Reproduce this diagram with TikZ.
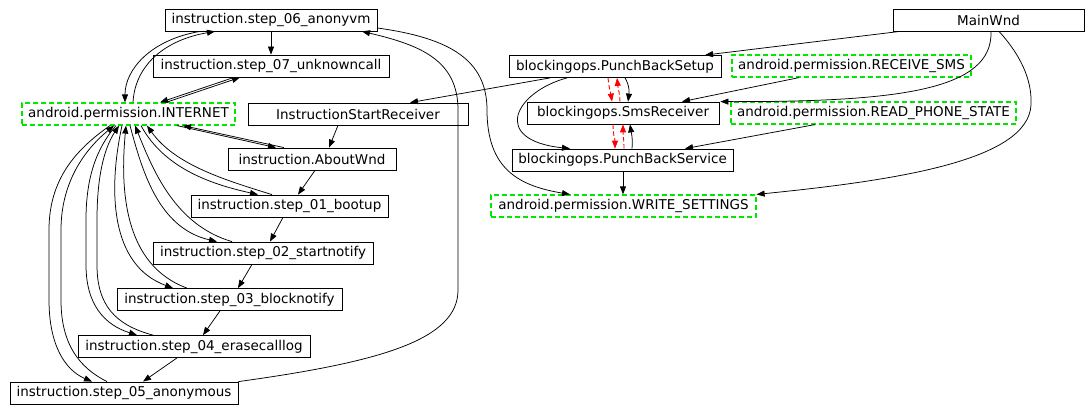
\documentclass[tikz,border=0pt]{standalone}
\usepackage{fontspec}
\setmainfont{DejaVu Sans}
\usetikzlibrary{arrows.meta,calc}
\definecolor{permgreen}{RGB}{0,230,0}
\definecolor{redge}{RGB}{255,0,0}
\tikzset{
  box/.style={draw, line width=0.8pt, rectangle, inner sep=0pt, minimum height=22pt, font=\fontsize{13.5}{16}\selectfont},
  perm/.style={box, draw=permgreen, line width=1.2pt, dash pattern=on 5pt off 3pt},
  edge/.style={draw, line width=0.75pt, -{Triangle[length=8pt,width=6pt]}},
  redge/.style={edge, draw=redge, line width=0.9pt, dash pattern=on 4.5pt off 2.5pt, -{Triangle[length=8pt,width=6pt,fill=redge]}}
}
\begin{document}
\begin{tikzpicture}[x=1pt,y=-1pt]
\useasboundingbox[fill=white] (0,0) rectangle (1086,412);
% nodes
\node[box, minimum width=212pt] (s06) at (271,20) {instruction.step\_06\_anonyvm};
\node[box, minimum width=236pt] (s07) at (271,66) {instruction.step\_07\_unknowncall};
\node[perm, minimum width=213pt] (internet) at (128.5,114) {android.permission.INTERNET};
\node[box, minimum width=220pt] (isr) at (358,114) {InstructionStartReceiver};
\node[box, minimum width=168pt] (about) at (312,159) {instruction.AboutWnd};
\node[box, minimum width=197pt] (s01) at (289.5,206) {instruction.step\_01\_bootup};
\node[box, minimum width=220pt] (s02) at (263,253) {instruction.step\_02\_startnotify};
\node[box, minimum width=225pt] (s03) at (229.5,299.5) {instruction.step\_03\_blocknotify};
\node[box, minimum width=232pt] (s04) at (194,346.5) {instruction.step\_04\_erasecalllog};
\node[box, minimum width=228pt] (s05) at (124,393) {instruction.step\_05\_anonymous};
\node[box, minimum width=212pt] (pbsetup) at (615,66.5) {blockingops.PunchBackSetup};
\node[box, minimum width=192pt] (sms) at (623,113) {blockingops.SmsReceiver};
\node[box, minimum width=221pt] (pbservice) at (622.5,160) {blockingops.PunchBackService};
\node[perm, minimum width=265pt] (write) at (623.5,206) {android.permission.WRITE\_SETTINGS};
\node[box, minimum width=191pt] (mainwnd) at (988.5,20) {MainWnd};
\node[perm, minimum width=239pt] (receive) at (851.5,66) {android.permission.RECEIVE\_SMS};
\node[perm, minimum width=285pt] (readphone) at (873.5,113) {android.permission.READ\_PHONE\_STATE};

% left cluster
\path[edge] (s06.south) -- (s07.north);
\path[edge] ($(s06.south)+(-71,0)$) .. controls (150,40) and (125,70) .. ($(internet.north)+(-3.5,0)$);
\path[edge] ($(internet.north)+(4.5,0)$) .. controls (135,65) and (165,40) .. ($(s06.south)+(-56,0)$);
\path[edge] ($(s07.south)+(-37,0)$) -- ($(internet.north)+(31.5,0)$);
\path[edge] ($(internet.north)+(37.5,0)$) -- ($(s07.south)+(-31,0)$);
\path[edge] ($(isr.south)+(-20,0)$) -- ($(about.north)+(17,0)$);
\path[edge] ($(about.north)+(-28,0)$) -- ($(internet.south)+(54.5,0)$);
\path[edge] ($(internet.south)+(48.5,0)$) -- ($(about.north)+(-36,0)$);
\path[edge] ($(about.south)+(3,0)$) -- ($(s01.north)+(8.5,0)$);
\path[edge] ($(s01.south)+(-6.5,0)$) -- ($(s02.north)+(7,0)$);
\path[edge] ($(s02.south)+(-11,0)$) -- ($(s03.north)+(8.5,0)$);
\path[edge] ($(s03.south)+(-9.5,0)$) -- ($(s04.north)+(9,0)$);
\path[edge] ($(s04.south)+(-17,0)$) -- ($(s05.north)+(19,0)$);
% step_01 pair
\path[edge] ($(internet.south)+(12.5,0)$) .. controls (165,170) and (215,185) .. ($(s01.north)+(-31.5,0)$);
\path[edge] ($(s01.north)+(-17.5,0)$) .. controls (225,180) and (175,165) .. ($(internet.south)+(18.5,0)$);
% step_02 pair
\path[edge] ($(internet.south)+(1.5,0)$) .. controls (142,170) and (158,228) .. ($(s02.north)+(-46,0)$);
\path[edge] ($(s02.north)+(-31,0)$) .. controls (175,225) and (153,170) .. ($(internet.south)+(6.5,0)$);
% step_03 pair
\path[edge] ($(internet.south)+(-6.5,0)$) .. controls (108,190) and (110,265) .. ($(s03.north)+(-56.5,0)$);
\path[edge] ($(s03.north)+(-42.5,0)$) .. controls (124,265) and (120,190) .. ($(internet.south)+(-2.5,0)$);
% step_04 pair
\path[edge] ($(internet.south)+(-12.5,0)$) .. controls (95,150) and (86,180) .. (86,220) -- (86,265) .. controls (86,305) and (105,325) .. ($(s04.north)+(-57,0)$);
\path[edge] ($(s04.north)+(-41,0)$) .. controls (115,325) and (97,305) .. (97,265) -- (97,220) .. controls (97,180) and (103,150) .. ($(internet.south)+(-9.5,0)$);
% step_05 pair
\path[edge] ($(internet.south)+(-18.5,0)$) .. controls (75,150) and (49,180) .. (49,230) -- (49,300) .. controls (49,345) and (65,370) .. ($(s05.north)+(-32,0)$);
\path[edge] ($(s05.north)+(-17,0)$) .. controls (80,368) and (61,345) .. (61,300) -- (61,230) .. controls (61,185) and (82,152) .. ($(internet.south)+(-14.5,0)$);
% long curves
\path[edge] (s05.north east) .. controls (380,362) and (458,340) .. (458,290) -- (458,110) .. controls (458,60) and (420,45) .. ($(s06.south)+(91,0)$);
\path[edge] ($(s06.east)+(0,8)$) .. controls (450,38) and (487,60) .. (487,110) .. controls (487,170) and (520,186) .. ($(write.north)+(-53.5,0)$);

% right cluster
\path[edge] ($(pbsetup.south)+(-65,0)$) -- ($(isr.north)+(52,0)$);
\path[edge] ($(mainwnd.south)+(-88.5,0)$) -- ($(pbsetup.north)+(90,0)$);
\path[edge] ($(mainwnd.south)+(2.5,0)$) .. controls (993,90) and (900,102) .. ($(sms.north east)+(1,0)$);
\path[edge] ($(receive.south)+(-52.5,0)$) -- ($(sms.north)+(59,0)$);
\path[edge] ($(readphone.south)+(-58.5,0)$) -- ($(pbservice.north)+(62.5,0)$);
\path[edge] ($(mainwnd.south)+(10.5,0)$) .. controls (1025,60) and (1032,85) .. (1031,105) .. controls (1028,160) and (900,180) .. (write.north east);
\path[edge] ($(pbsetup.south)+(10,0)$) .. controls (630,86) and (629,94) .. ($(sms.north)+(5,0)$);
\path[edge] ($(pbsetup.south)+(-48,0)$) .. controls (515,92) and (490,140) .. ($(pbservice.north)+(-52.5,0)$);
\path[redge] ($(pbsetup.south)+(-7,0)$) .. controls (609,88) and (611,95) .. ($(sms.north)+(-11,0)$);
\path[redge] ($(sms.north)+(-3,0)$) .. controls (620,95) and (618,88) .. ($(pbsetup.south)+(2,0)$);
\path[redge] ($(sms.south)+(-10,0)$) .. controls (613,134) and (615,140) .. ($(pbservice.north)+(-7.5,0)$);
\path[redge] ($(pbservice.north)+(1.5,0)$) .. controls (624,140) and (623,134) .. (sms.south);
\path[edge] ($(pbservice.north)+(9.5,0)$) .. controls (633,138) and (631,131) .. ($(sms.south)+(7,0)$);
\path[edge] ($(pbservice.south)+(0.5,0)$) -- ($(write.north)+(-0.5,0)$);
\end{tikzpicture}
\end{document}
